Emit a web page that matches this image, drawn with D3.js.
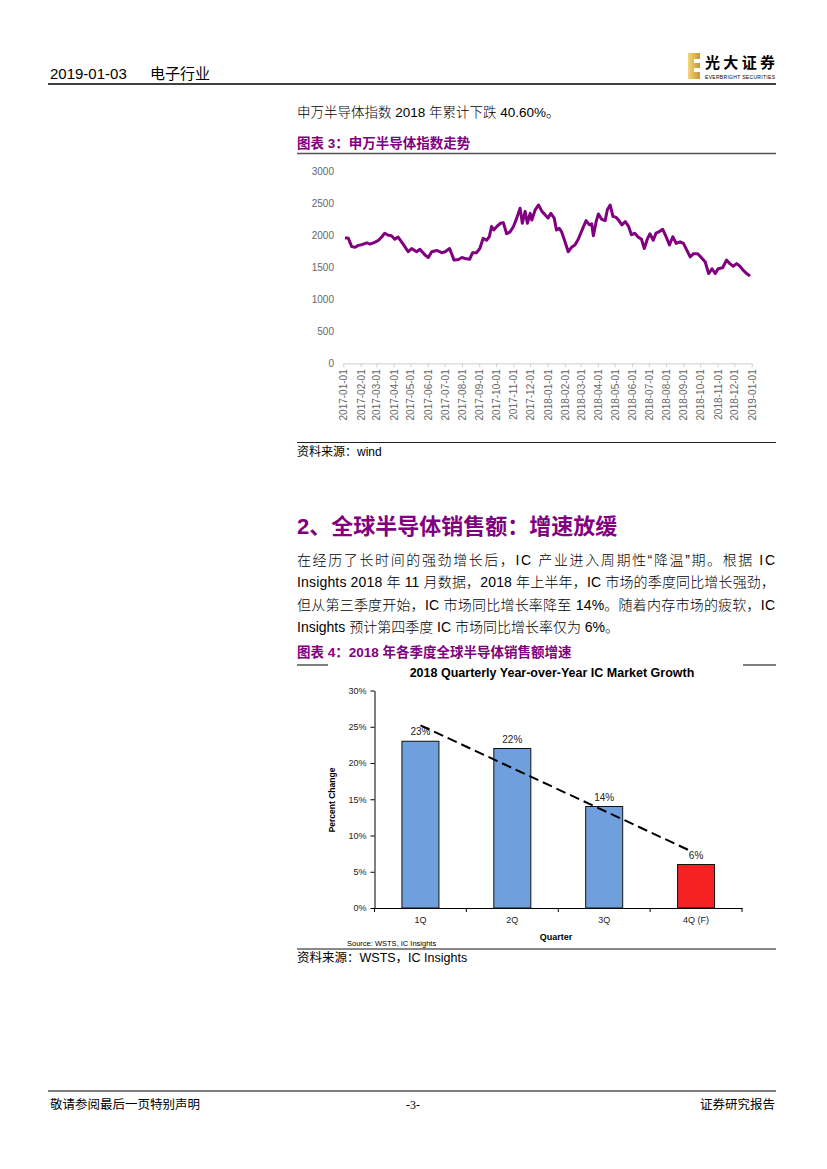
<!DOCTYPE html>
<html>
<head>
<meta charset="utf-8">
<script src="https://cdn.jsdelivr.net/npm/d3@7"></script>
<style>
  body { margin: 0; background: #fff; }
  svg { display: block; }
  text { font-family: "Liberation Sans", Arial, "Noto Sans CJK SC", sans-serif; }
</style>
</head>
<body>
<div id="page"></div>
<script>
// ---- chart 3: SW semiconductor index ----
const indexDates = ["2017-01-04","2017-01-10","2017-01-16","2017-01-22","2017-01-28","2017-02-03","2017-02-12","2017-02-18","2017-02-27","2017-03-05",
  "2017-03-11","2017-03-16","2017-03-22","2017-03-28","2017-04-03","2017-04-09","2017-04-18","2017-04-27","2017-05-03","2017-05-12",
  "2017-05-18","2017-05-27","2017-06-02","2017-06-08","2017-06-17","2017-06-26","2017-07-02","2017-07-10","2017-07-18","2017-07-26",
  "2017-08-01","2017-08-09","2017-08-15","2017-08-20","2017-08-27","2017-09-02","2017-09-08","2017-09-14","2017-09-19","2017-09-23",
  "2017-09-27","2017-10-03","2017-10-09","2017-10-14","2017-10-20","2017-10-26","2017-11-01","2017-11-07","2017-11-13","2017-11-17",
  "2017-11-22","2017-11-26","2017-12-01","2017-12-04","2017-12-10","2017-12-16","2017-12-22","2017-12-28","2018-01-02","2018-01-07",
  "2018-01-13","2018-01-17","2018-01-22","2018-01-26","2018-02-01","2018-02-07","2018-02-13","2018-02-19","2018-02-25","2018-03-05",
  "2018-03-11","2018-03-17","2018-03-21","2018-03-24","2018-03-29","2018-04-02","2018-04-08","2018-04-14","2018-04-18","2018-04-23",
  "2018-04-28","2018-05-03","2018-05-08","2018-05-14","2018-05-20","2018-05-26","2018-05-31","2018-06-06","2018-06-12","2018-06-18",
  "2018-06-23","2018-06-29","2018-07-03","2018-07-09","2018-07-14","2018-07-20","2018-07-26","2018-08-01","2018-08-07","2018-08-13",
  "2018-08-19","2018-08-26","2018-09-01","2018-09-07","2018-09-13","2018-09-19","2018-09-26","2018-10-02","2018-10-10","2018-10-16",
  "2018-10-22","2018-10-28","2018-11-02","2018-11-10","2018-11-17","2018-11-23","2018-11-29","2018-12-05","2018-12-11","2018-12-17",
  "2018-12-23","2018-12-29"];
const indexValues = [1960,1950,1820,1810,1840,1850,1880,1860,1890,1920,
  1975,2030,2000,1990,1935,1970,1860,1740,1790,1740,
  1780,1690,1650,1740,1760,1725,1740,1790,1610,1620,
  1650,1630,1625,1725,1725,1790,1950,1920,1975,2135,
  2080,2140,2185,2195,2020,2050,2130,2265,2420,2185,
  2370,2185,2340,2235,2395,2470,2370,2315,2265,2340,
  2265,2080,2105,2055,1905,1740,1810,1845,1935,2105,
  2225,2160,2175,1990,2210,2330,2245,2225,2395,2470,
  2290,2280,2235,2160,2210,2135,2005,2030,1970,1935,
  1790,1950,2020,1920,2030,2055,2090,1975,1845,1975,
  1870,1895,1870,1765,1660,1710,1710,1660,1580,1400,
  1475,1400,1475,1490,1610,1555,1515,1555,1515,1450,
  1400,1360];
const indexTicks = [0, 500, 1000, 1500, 2000, 2500, 3000];

// ---- chart 4: IC market growth ----
const quarters = ["1Q", "2Q", "3Q", "4Q (F)"];
const growth = [23, 22, 14, 6];
const growthTicks = [0, 5, 10, 15, 20, 25, 30];
const trendStart = 25.2, trendEnd = 7.9;

const bodyLines = [
  "在经历了长时间的强劲增长后，IC 产业进入周期性“降温”期。根据 IC",
  "Insights 2018 年 11 月数据，2018 年上半年，IC 市场的季度同比增长强劲，",
  "但从第三季度开始，IC 市场同比增长率降至 14%。随着内存市场的疲软，IC",
  "Insights 预计第四季度 IC 市场同比增长率仅为 6%。"
];

const W = 827, H = 1169;
const purple = "#800080";
const svg = d3.select("#page").append("svg").attr("width", W).attr("height", H);

// ---- page header ----
svg.append("text").attr("x", 50).attr("y", 79).style("font-size", "15px").text("2019-01-03");
svg.append("text").attr("x", 150).attr("y", 79).style("font-size", "15px")
  .style("font-family", "Noto Sans CJK SC").text("电子行业");
svg.append("line").attr("x1", 48).attr("x2", 776).attr("y1", 84).attr("y2", 84)
  .attr("stroke", "#000").attr("stroke-width", 1.5);

// logo
const grad = svg.append("defs").append("linearGradient").attr("id", "gold").attr("x1", 0).attr("x2", 1);
grad.append("stop").attr("offset", "0%").attr("stop-color", "#f3d77a");
grad.append("stop").attr("offset", "100%").attr("stop-color", "#c8962e");
svg.append("rect").attr("x", 688).attr("y", 53).attr("width", 12).attr("height", 26).attr("fill", "url(#gold)");
svg.append("rect").attr("x", 694).attr("y", 59).attr("width", 6).attr("height", 4).attr("fill", "#fff");
svg.append("rect").attr("x", 694).attr("y", 68).attr("width", 6).attr("height", 4).attr("fill", "#fff");
svg.append("text").attr("x", 705).attr("y", 68).style("font-size", "15px").style("font-weight", "bold")
  .style("font-family", "Noto Sans CJK SC").attr("textLength", 70).text("光大证券");
svg.append("text").attr("x", 705).attr("y", 79).style("font-size", "5px").attr("textLength", 70)
  .text("EVERBRIGHT SECURITIES");

// ---- text block 1 ----
svg.append("text").attr("x", 297).attr("y", 117).style("font-size", "13.5px")
  .style("font-family", "Liberation Sans, Noto Sans CJK SC").style("font-weight", 300)
  .text("申万半导体指数 2018 年累计下跌 40.60%。");
svg.append("text").attr("x", 297).attr("y", 148).style("font-size", "13.5px").style("font-weight", "bold")
  .attr("fill", purple).text("图表 3：申万半导体指数走势");
svg.append("line").attr("x1", 297).attr("x2", 776).attr("y1", 153.5).attr("y2", 153.5)
  .attr("stroke", "#555").attr("stroke-width", 1.5);

// ---- chart 3 ----
const parse = d3.timeParse("%Y-%m-%d");
const series = indexDates.map((d, i) => ({ date: parse(d), value: indexValues[i] }));
const x = d3.scaleTime().domain([parse("2017-01-01"), parse("2019-01-01")]).range([343.3, 751.7]);
const y = d3.scaleLinear().domain([0, 3000]).range([363.3, 171]);

const yAx = svg.append("g").attr("transform", "translate(343,0)")
  .call(d3.axisLeft(y).tickValues(indexTicks).tickFormat(d3.format("d")).tickSize(0).tickPadding(9));
yAx.select(".domain").remove();
yAx.selectAll("text").style("font-size", "10px").attr("fill", "#666");

const xAx = svg.append("g").attr("transform", `translate(0,${y(0)})`)
  .call(d3.axisBottom(x).ticks(d3.timeMonth.every(1)).tickFormat(d3.timeFormat("%Y-%m-%d")).tickSize(4).tickSizeOuter(0));
xAx.select(".domain").attr("stroke", "#d0d0d0");
xAx.selectAll("line").attr("stroke", "#d0d0d0");
xAx.selectAll("text")
  .attr("transform", "rotate(-90)")
  .attr("x", -6).attr("y", 0).attr("dy", "0.35em")
  .style("text-anchor", "end").style("font-size", "10px").attr("fill", "#666");

svg.append("path").datum(series)
  .attr("fill", "none").attr("stroke", purple).attr("stroke-width", 3).attr("stroke-linejoin", "round")
  .attr("d", d3.line().x(d => x(d.date)).y(d => y(d.value)));

svg.append("line").attr("x1", 297).attr("x2", 776).attr("y1", 442.5).attr("y2", 442.5)
  .attr("stroke", "#222").attr("stroke-width", 1);
svg.append("text").attr("x", 297).attr("y", 456).style("font-size", "12px")
  .style("font-family", "Liberation Sans, Noto Sans CJK SC").text("资料来源：wind");

// ---- section 2 ----
svg.append("text").attr("x", 297).attr("y", 534).style("font-size", "22px").style("font-weight", "bold")
  .attr("fill", purple).text("2、全球半导体销售额：增速放缓");

bodyLines.forEach((t, i) => {
  const tx = svg.append("text").attr("x", 297).attr("y", 565 + i * 22.3)
    .style("font-size", "14px").style("font-family", "Liberation Sans, Noto Sans CJK SC").style("font-weight", 300)
    .text(t);
  if (i < bodyLines.length - 1) tx.attr("textLength", 478).attr("lengthAdjust", "spacing");
});

svg.append("text").attr("x", 297).attr("y", 657).style("font-size", "13.5px").style("font-weight", "bold")
  .attr("fill", purple).text("图表 4：2018 年各季度全球半导体销售额增速");
svg.append("line").attr("x1", 297).attr("x2", 328).attr("y1", 665).attr("y2", 665)
  .attr("stroke", "#555").attr("stroke-width", 1.5);
svg.append("line").attr("x1", 743).attr("x2", 776).attr("y1", 665).attr("y2", 665)
  .attr("stroke", "#555").attr("stroke-width", 1.5);

// ---- chart 4 ----
svg.append("text").attr("x", 552).attr("y", 677).attr("text-anchor", "middle")
  .style("font-size", "12.5px").style("font-weight", "bold").text("2018 Quarterly Year-over-Year IC Market Growth");

const xb = d3.scaleBand().domain(quarters).range([374.5, 742]);
const yb = d3.scaleLinear().domain([0, 30]).range([908, 690.5]);
const barW = 37;

const ybAx = svg.append("g").attr("transform", "translate(374.5,0)")
  .call(d3.axisLeft(yb).tickValues(growthTicks).tickFormat(d => d + "%").tickSize(4).tickSizeOuter(0).tickPadding(4));
ybAx.selectAll("text").style("font-size", "9px").attr("fill", "#222");
ybAx.selectAll("line,path").attr("stroke", "#000");

const xbAx = svg.append("g").attr("transform", "translate(0,908)")
  .call(d3.axisBottom(xb).tickSize(0).tickSizeOuter(0).tickPadding(9));
xbAx.selectAll("text").style("font-size", "9px").attr("fill", "#222");
xbAx.select(".domain").attr("stroke", "#000");
// boundary ticks between categories
svg.append("g").selectAll("line").data(quarters.concat(["end"]))
  .join("line")
  .attr("x1", (d, i) => i < quarters.length ? xb(d) : xb(quarters[quarters.length - 1]) + xb.bandwidth())
  .attr("x2", (d, i) => i < quarters.length ? xb(d) : xb(quarters[quarters.length - 1]) + xb.bandwidth())
  .attr("y1", 908).attr("y2", 912).attr("stroke", "#000");

svg.append("g").selectAll("rect").data(growth).join("rect")
  .attr("x", (d, i) => xb(quarters[i]) + xb.bandwidth() / 2 - barW / 2)
  .attr("width", barW)
  .attr("y", d => yb(d))
  .attr("height", d => yb(0) - yb(d))
  .attr("fill", (d, i) => i === quarters.length - 1 ? "#f42222" : "#6f9fdc")
  .attr("stroke", "#111").attr("stroke-width", 1);

svg.append("g").selectAll("text").data(growth).join("text")
  .attr("x", (d, i) => xb(quarters[i]) + xb.bandwidth() / 2)
  .attr("y", d => yb(d) - 6)
  .attr("text-anchor", "middle").style("font-size", "10px").attr("fill", "#222")
  .text(d => d + "%");

svg.append("line")
  .attr("x1", xb(quarters[0]) + xb.bandwidth() / 2).attr("y1", yb(trendStart))
  .attr("x2", xb(quarters[3]) + xb.bandwidth() / 2 - 6).attr("y2", yb(trendEnd))
  .attr("stroke", "#000").attr("stroke-width", 2).attr("stroke-dasharray", "10,5");

svg.append("text").attr("transform", "translate(335,800) rotate(-90)").attr("text-anchor", "middle")
  .style("font-size", "8.5px").style("font-weight", "bold").text("Percent Change");
svg.append("text").attr("x", 556).attr("y", 940).attr("text-anchor", "middle")
  .style("font-size", "9px").style("font-weight", "bold").text("Quarter");
svg.append("text").attr("x", 347).attr("y", 945.5)
  .style("font-size", "7.5px").text("Source: WSTS, IC Insights");

svg.append("line").attr("x1", 297).attr("x2", 776).attr("y1", 949).attr("y2", 949)
  .attr("stroke", "#888").attr("stroke-width", 2);
svg.append("text").attr("x", 297).attr("y", 962).style("font-size", "12.5px")
  .style("font-family", "Liberation Sans, Noto Sans CJK SC").text("资料来源：WSTS，IC Insights");

// ---- footer ----
svg.append("line").attr("x1", 48).attr("x2", 776).attr("y1", 1091).attr("y2", 1091)
  .attr("stroke", "#000").attr("stroke-width", 1);
svg.append("text").attr("x", 50).attr("y", 1109).style("font-size", "12.5px")
  .style("font-family", "Noto Sans CJK SC").text("敬请参阅最后一页特别声明");
svg.append("text").attr("x", 413).attr("y", 1109).attr("text-anchor", "middle").style("font-size", "12px")
  .style("font-family", "Liberation Serif").text("-3-");
svg.append("text").attr("x", 775).attr("y", 1109).attr("text-anchor", "end").style("font-size", "12.5px")
  .style("font-family", "Noto Sans CJK SC").text("证券研究报告");
</script>
</body>
</html>
